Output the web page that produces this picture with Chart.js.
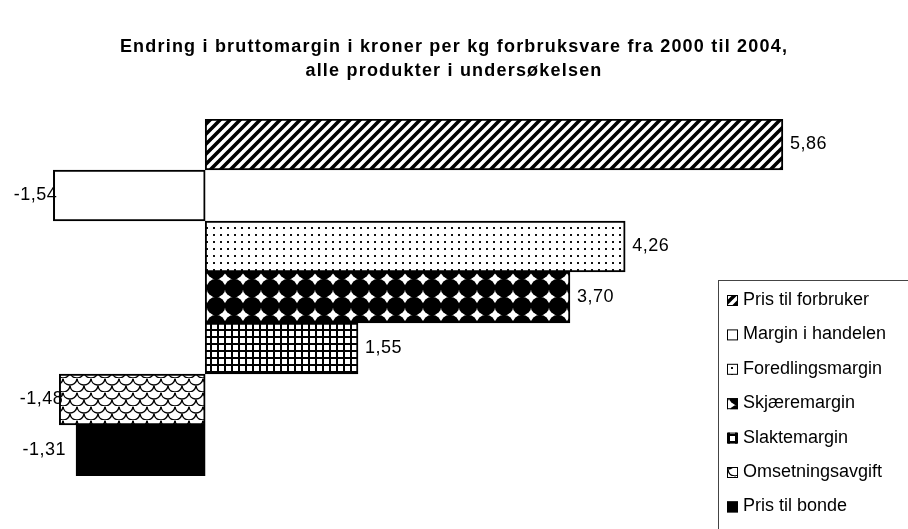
<!DOCTYPE html>
<html>
<head>
<meta charset="utf-8">
<script src="https://cdn.jsdelivr.net/npm/chart.js@4"></script>
<style>
  html, body { margin: 0; padding: 0; background: #fff; }
  canvas { display: block; }
</style>
</head>
<body>
<canvas id="chart" width="908" height="529"></canvas>
<script>
// Chart data
const titleLines = [
    'Endring i bruttomargin i kroner per kg forbruksvare fra 2000 til 2004,',
    'alle produkter i undersøkelsen'
];
const categories = ['Pris til forbruker', 'Margin i handelen', 'Foredlingsmargin', 'Skjæremargin', 'Slaktemargin', 'Omsetningsavgift', 'Pris til bonde'];
const changes = [5.86, -1.54, 4.26, 3.70, 1.55, -1.48, -1.31];

const FONT = "'Liberation Sans', Arial, sans-serif";

// small helper to build a repeating fill pattern
function makePattern(w, h, draw) {
    const c = document.createElement('canvas');
    c.width = w;
    c.height = h;
    const g = c.getContext('2d');
    g.fillStyle = '#fff';
    g.fillRect(0, 0, w, h);
    g.fillStyle = '#000';
    g.strokeStyle = '#000';
    draw(g, w, h);
    return g.createPattern(c, 'repeat');
}

const stripes = makePattern(10, 10, (g, w, h) => {
    g.lineWidth = 3.6;
    g.beginPath();
    for (let o = -w; o <= w; o += w) {
        g.moveTo(o - 1, h + 1);
        g.lineTo(o + w + 1, -1);
    }
    g.stroke();
});
const blank = '#ffffff';
const dots = makePattern(7, 7, (g) => {
    g.fillStyle = '#111';
    g.fillRect(3, 3, 2, 2);
});
const spheres = makePattern(18, 18, (g, w, h) => {
    [[0, 0], [w, 0], [0, h], [w, h]].forEach(([x, y]) => {
        g.beginPath();
        g.arc(x, y, 9.3, 0, Math.PI * 2);
        g.fill();
    });
});
const grid = makePattern(7, 7, (g, w, h) => {
    g.fillRect(0, 0, w, 2);
    g.fillRect(0, 0, 2, h);
});
const scales = makePattern(14, 14, (g) => {
    g.lineWidth = 1.4;
    [[0, 0], [14, 0], [7, 7], [0, 14], [14, 14]].forEach(([x, y]) => {
        g.beginPath();
        g.arc(x, y, 7, 0.1, Math.PI - 0.1);
        g.stroke();
    });
});
const solid = '#000000';

const fills = [stripes, blank, dots, spheres, grid, scales, solid];

const fmt = v => v.toFixed(2).replace('.', ',');

// title, value labels and legend are drawn by hand to match the original placement
const decorPlugin = {
    id: 'decor',
    afterDraw(chart) {
        const ctx = chart.ctx;
        ctx.save();

        // title
        ctx.fillStyle = '#000';
        ctx.font = 'bold 18px ' + FONT;
        ctx.textAlign = 'center';
        ctx.textBaseline = 'middle';
        ctx.letterSpacing = '1.2px';
        titleLines.forEach((line, i) => {
            ctx.fillText(line, chart.width / 2, 47 + i * 24);
        });

        // value labels
        ctx.font = '18px ' + FONT;
        ctx.letterSpacing = '0.5px';
        const meta = chart.getDatasetMeta(0);
        meta.data.forEach((bar, i) => {
            const v = changes[i];
            if (v >= 0) {
                ctx.textAlign = 'left';
                ctx.fillText(fmt(v), bar.x + 7, bar.y);
            } else {
                ctx.textAlign = 'right';
                const gap = fills[i] === solid ? -10 : 4;
                ctx.fillText(fmt(v), bar.x + gap, bar.y);
            }
        });

        // legend
        const lx = 718, ly = 280;
        ctx.strokeStyle = '#444';
        ctx.lineWidth = 1;
        ctx.strokeRect(lx + 0.5, ly + 0.5, 220, 270);
        ctx.textAlign = 'left';
        ctx.letterSpacing = '0px';
        categories.forEach((name, i) => {
            const y = ly + 20 + i * 34.4;
            ctx.fillStyle = fills[i];
            ctx.fillRect(lx + 9, y - 5, 11, 11);
            ctx.strokeStyle = '#000';
            ctx.strokeRect(lx + 9.5, y - 4.5, 10, 10);
            ctx.fillStyle = '#000';
            ctx.fillText(name, lx + 25, y);
        });

        ctx.restore();
    }
};

new Chart(document.getElementById('chart'), {
    type: 'bar',
    data: {
        labels: categories,
        datasets: [{
            data: changes,
            backgroundColor: fills,
            borderColor: '#000',
            borderWidth: 2,
            borderSkipped: false,
            barPercentage: 1,
            categoryPercentage: 1
        }]
    },
    options: {
        indexAxis: 'y',
        responsive: false,
        animation: false,
        layout: {
            padding: { top: 119, bottom: 53, left: 8, right: 62 }
        },
        plugins: {
            legend: { display: false },
            title: { display: false },
            tooltip: { enabled: false }
        },
        scales: {
            x: { display: false, min: -2, max: 6.5 },
            y: { display: false }
        }
    },
    plugins: [decorPlugin]
});
</script>
</body>
</html>
